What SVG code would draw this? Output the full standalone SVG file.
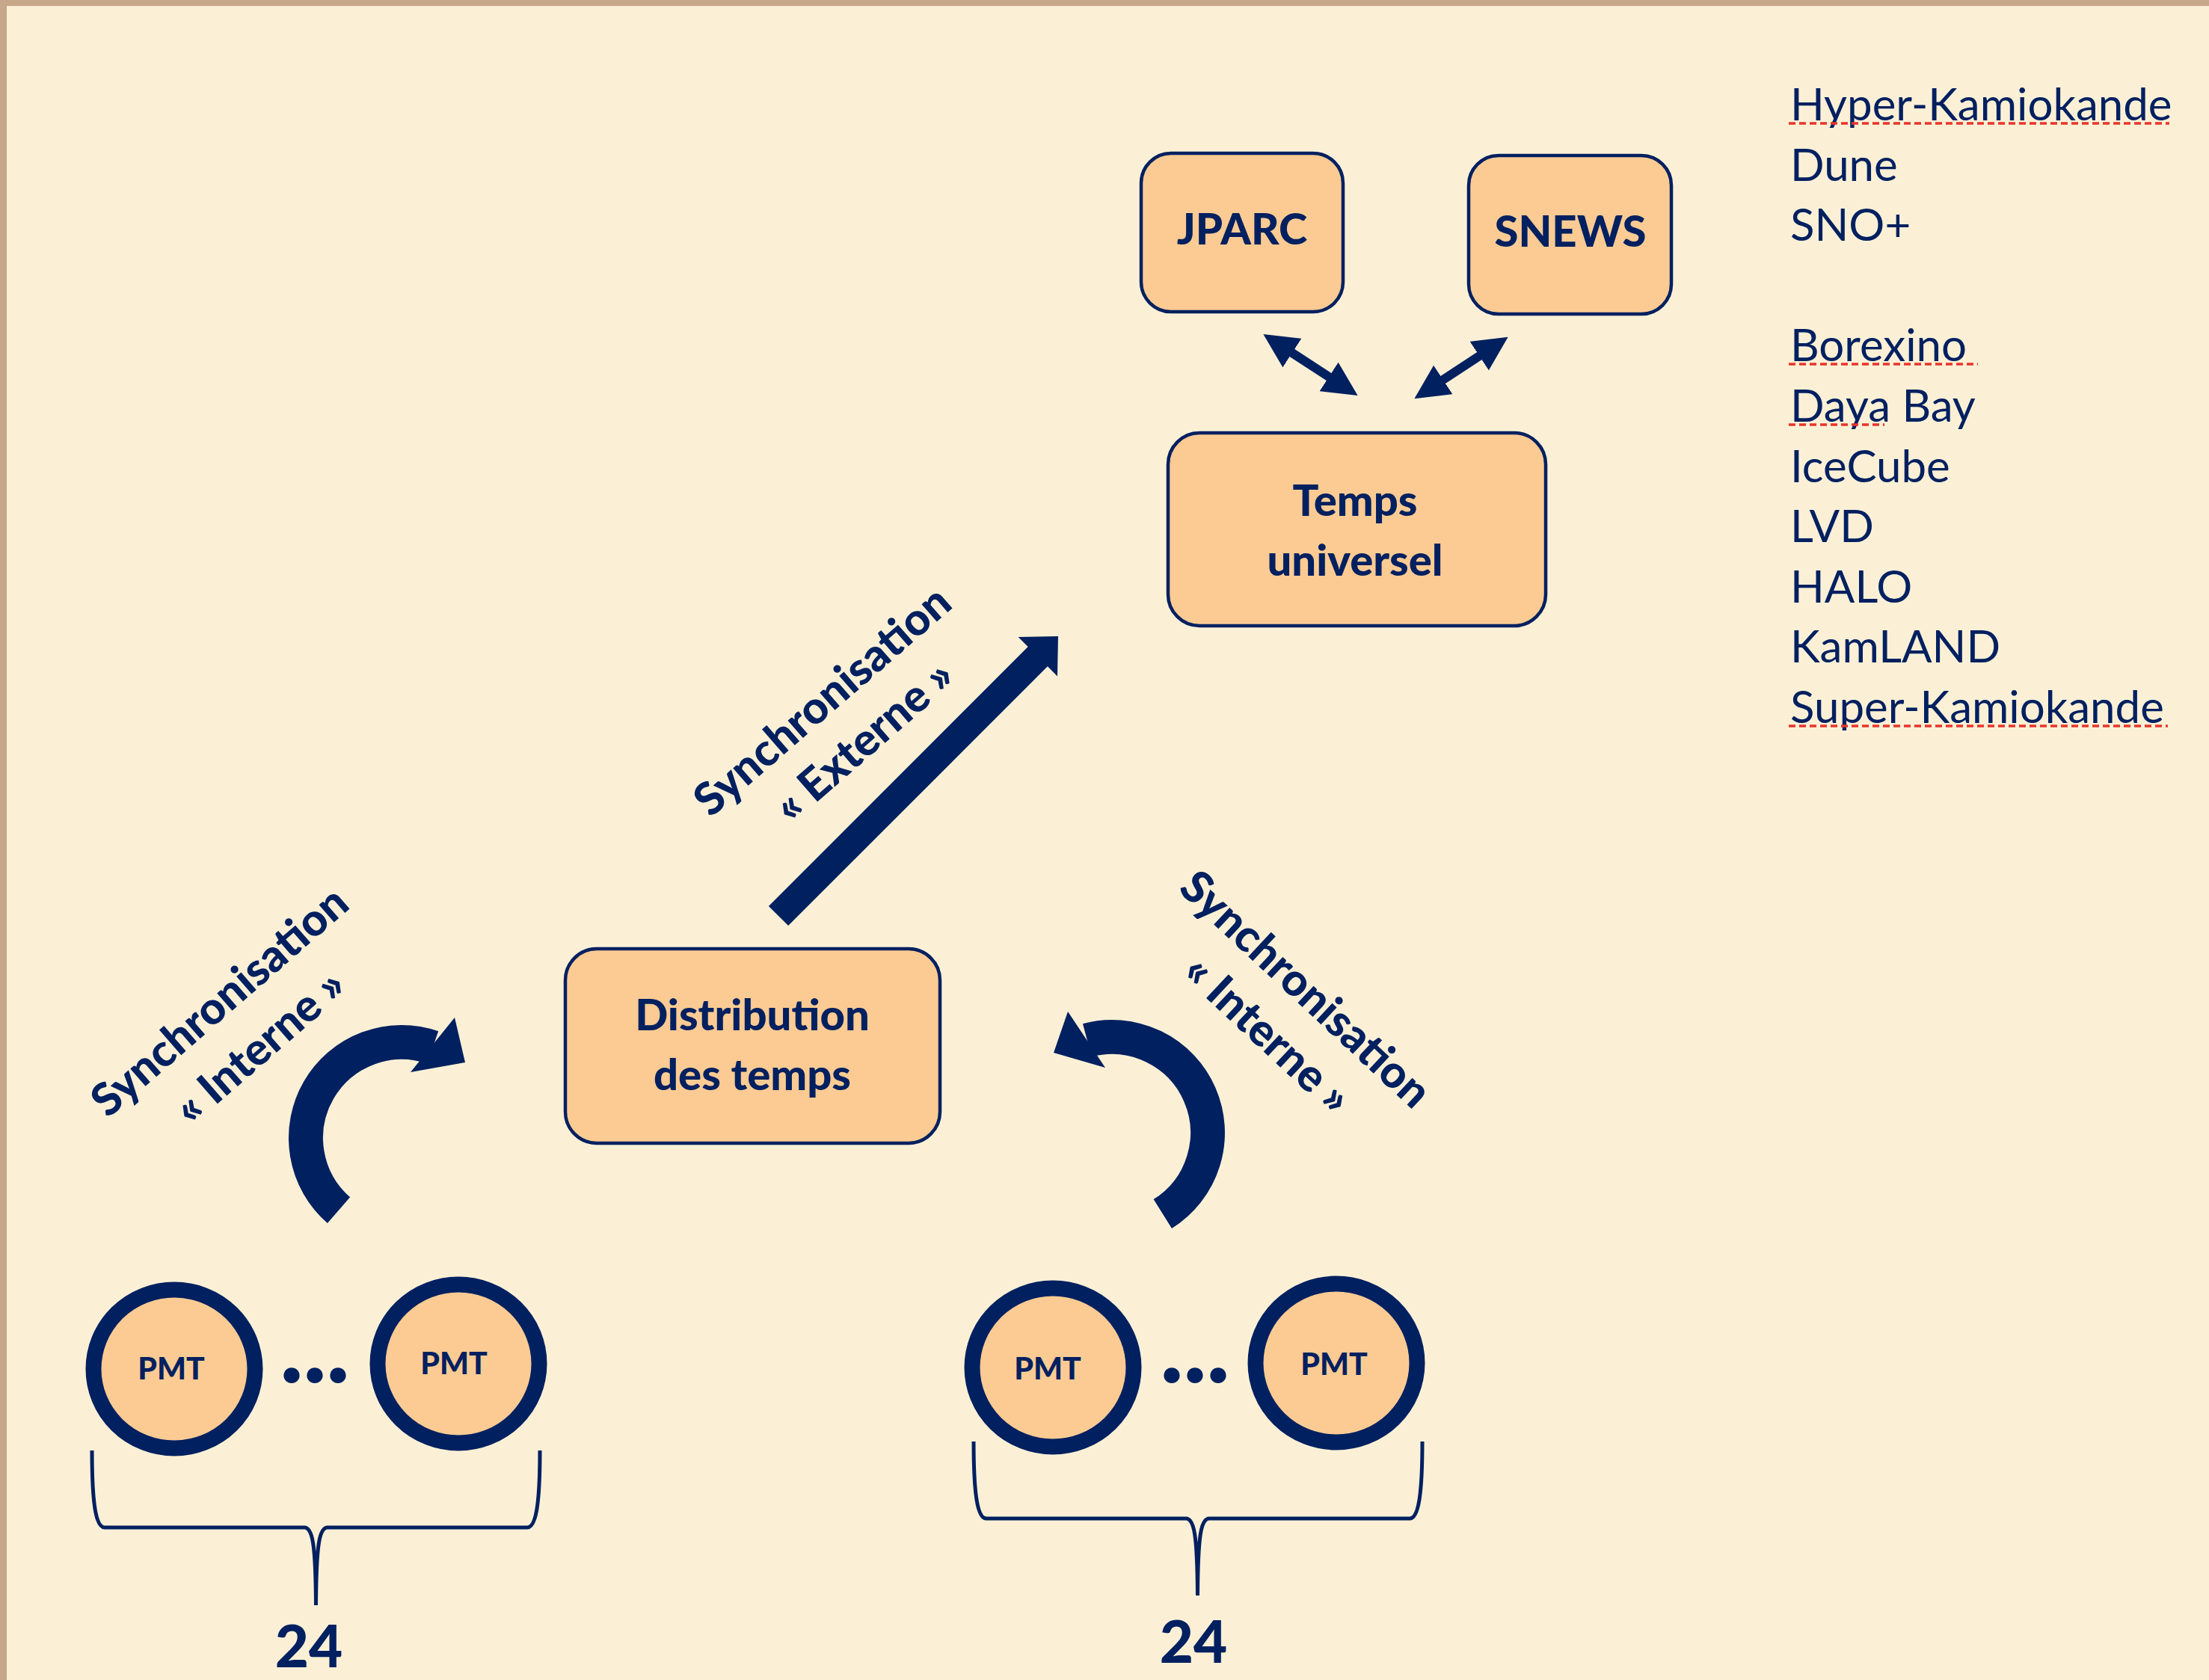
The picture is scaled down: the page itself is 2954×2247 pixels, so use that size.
<svg xmlns="http://www.w3.org/2000/svg" width="2954" height="2247" viewBox="0 0 2954 2247">
<defs>
<style>
.box{fill:#FCCB93;stroke:#002060;stroke-width:4.5}
.pmt{fill:#FCCB93;stroke:#002060;stroke-width:21}
.bt{font-family:Lato,"Open Sans","Liberation Sans",sans-serif;font-weight:900;fill:#002060;text-anchor:middle}
.lt{font-family:Lato,"Open Sans","Liberation Sans",sans-serif;font-size:60px;fill:#002060}
.nv{fill:#002060}
.arc{fill:none;stroke:#002060;stroke-width:46}
.sq{stroke:#E8352B;stroke-width:3.5;stroke-dasharray:9 5;fill:none}
.brace{fill:none;stroke:#002060;stroke-width:5}
</style>
<marker id="ah" markerUnits="userSpaceOnUse" markerWidth="46" markerHeight="46" refX="14" refY="23" orient="auto-start-reverse" viewBox="0 0 46 46">
<path d="M0,0 L46,23 L0,46 z" fill="#002060"/>
</marker>
</defs>
<rect x="0" y="0" width="2954" height="2247" fill="#FBF0D6"/>
<rect x="0" y="0" width="2954" height="8" fill="#C7A789"/>
<rect x="0" y="0" width="9" height="2247" fill="#C7A789"/>

<g id="jparc">
<rect class="box" x="1526" y="205" width="270" height="212" rx="40"/>
<text class="bt" x="1661" y="327" font-size="58">JPARC</text>
</g>
<g id="snews">
<rect class="box" x="1964" y="208" width="271" height="212" rx="40"/>
<text class="bt" x="2100" y="330" font-size="58">SNEWS</text>
</g>
<g id="temps-universel">
<rect class="box" x="1562" y="579" width="505" height="258" rx="42"/>
<text class="bt" font-size="58"><tspan x="1812" y="690">Temps</tspan><tspan x="1812" y="770">universel</tspan></text>
</g>
<g id="distribution">
<rect class="box" x="756" y="1269" width="501" height="260" rx="42"/>
<text class="bt" font-size="58"><tspan x="1006" y="1378">Distribution</tspan><tspan x="1006" y="1458">des temps</tspan></text>
</g>

<g id="pmt-group-left">
<ellipse class="pmt" cx="233" cy="1831" rx="108" ry="106"/>
<text class="bt" x="229" y="1845" font-size="41">PMT</text>
<text class="bt" x="421" y="1849" font-size="130">...</text>
<ellipse class="pmt" cx="613" cy="1824" rx="108" ry="106"/>
<text class="bt" x="607" y="1838" font-size="41">PMT</text>
</g>
<g id="pmt-group-right">
<ellipse class="pmt" cx="1408" cy="1829" rx="108" ry="106"/>
<text class="bt" x="1401" y="1845" font-size="41">PMT</text>
<text class="bt" x="1598" y="1849" font-size="130">...</text>
<ellipse class="pmt" cx="1787" cy="1823" rx="108" ry="106"/>
<text class="bt" x="1784" y="1839" font-size="41">PMT</text>
</g>

<g id="braces">
<path class="brace" d="M123,1940 C123,2010 128,2043 140,2043 L407,2043 C418,2043 422,2065 422.5,2147 C423,2065 427,2043 438,2043 L705,2043 C717,2043 722,2010 722,1940"/>
<path class="brace" d="M1302,1928 C1302,1998 1307,2031 1319,2031 L1586,2031 C1597,2031 1601,2053 1601.5,2134 C1602,2053 1606,2031 1617,2031 L1885,2031 C1897,2031 1902,1998 1902,1928"/>
<text class="bt" x="413" y="2230" font-size="78">24</text>
<text class="bt" x="1596" y="2224" font-size="78">24</text>
</g>

<g id="connectors">
<line x1="1716.2" y1="464.4" x2="1788.8" y2="511.6" stroke="#002060" stroke-width="12" marker-start="url(#ah)" marker-end="url(#ah)"/>
<line x1="1989.9" y1="468.4" x2="1918.1" y2="515.6" stroke="#002060" stroke-width="12" marker-start="url(#ah)" marker-end="url(#ah)"/>
<polygon class="nv" points="1027.9,1211.9 1374.7,865.1 1361.6,852 1415,851 1414,904.4 1400.9,891.3 1054.1,1238.1"/>
<path class="arc" d="M453,1618.6 A128,128 0 0 1 578.7,1401"/>
<polygon class="nv" points="608,1361 622,1421 549,1434"/>
<path class="arc" d="M1554.8,1623.6 A128,128 0 0 0 1453.9,1391.4"/>
<polygon class="nv" points="1428,1353 1409,1408 1478,1428"/>
</g>

<g id="labels">
<text class="bt" font-size="60" transform="translate(1113,953) rotate(-41)"><tspan x="0" y="0">Synchronisation</tspan><tspan x="7" y="77">« Externe »</tspan></text>
<text class="bt" font-size="60" transform="translate(307,1355) rotate(-41)"><tspan x="0" y="0">Synchronisation</tspan><tspan x="1" y="81">« Interne »</tspan></text>
<text class="bt" font-size="60" transform="translate(1732,1338) rotate(43)"><tspan x="0" y="0">Synchronisation</tspan><tspan x="4" y="79">« Interne »</tspan></text>
</g>

<g id="experiments">
<text class="lt" x="2394" y="161">Hyper-Kamiokande</text>
<text class="lt" x="2394" y="242">Dune</text>
<text class="lt" x="2394" y="322">SNO+</text>
<text class="lt" x="2394" y="483">Borexino</text>
<text class="lt" x="2394" y="564">Daya Bay</text>
<text class="lt" x="2394" y="645">IceCube</text>
<text class="lt" x="2394" y="725">LVD</text>
<text class="lt" x="2394" y="806">HALO</text>
<text class="lt" x="2394" y="886">KamLAND</text>
<text class="lt" x="2394" y="967">Super-Kamiokande</text>
<line class="sq" x1="2392" y1="165" x2="2901" y2="165"/>
<line class="sq" x1="2392" y1="487" x2="2645" y2="487"/>
<line class="sq" x1="2392" y1="568" x2="2520" y2="568"/>
<line class="sq" x1="2392" y1="971" x2="2899" y2="971"/>
</g>
</svg>
